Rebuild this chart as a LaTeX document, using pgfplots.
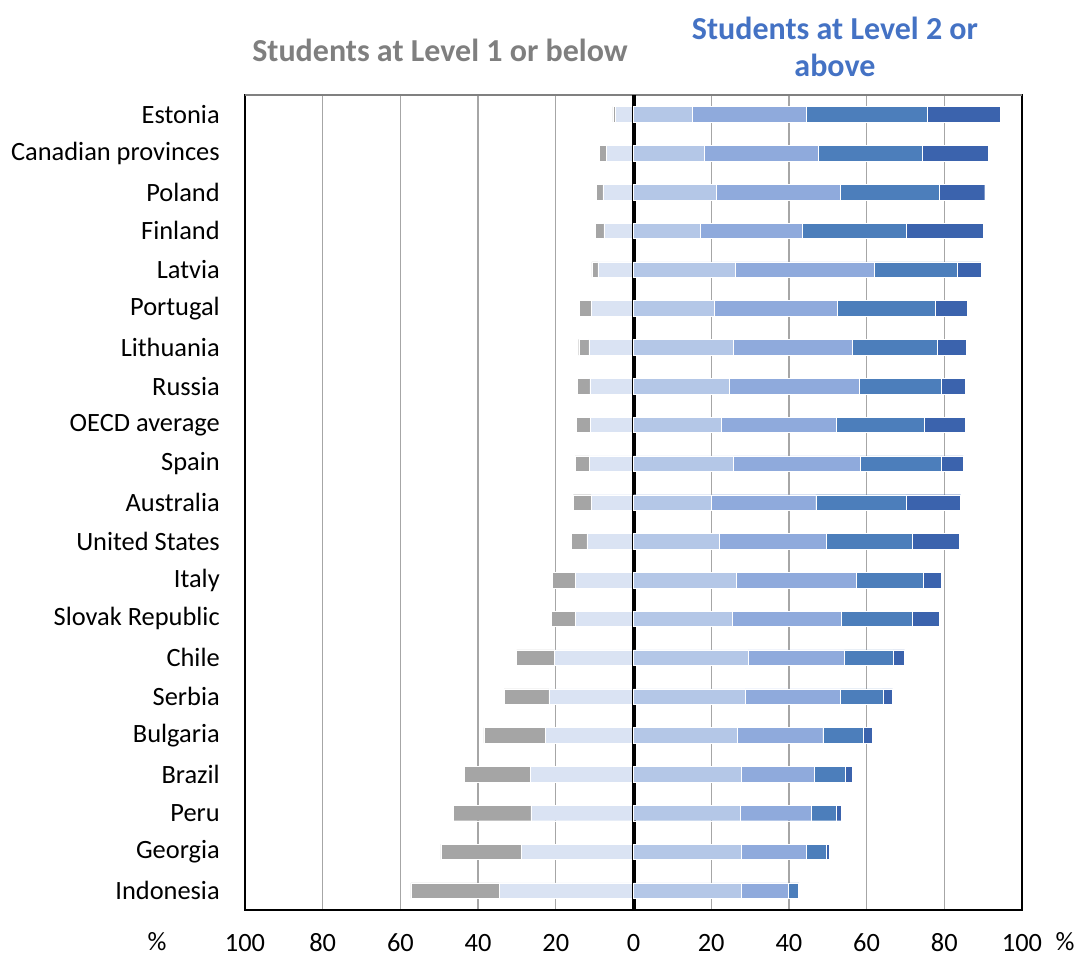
\documentclass[border=0pt]{standalone}
\usepackage{fontspec}
\setmainfont{Carlito}
\usepackage{pgfplots}
\usepackage{pgfplotstable}
\pgfplotsset{compat=1.18}

\definecolor{belowone}{HTML}{A5A5A5}
\definecolor{lvlone}{HTML}{DAE3F3}
\definecolor{lvltwo}{HTML}{B4C7E7}
\definecolor{lvlthree}{HTML}{8FAADC}
\definecolor{lvlfour}{HTML}{4C7EBB}
\definecolor{lvlfive}{HTML}{3B63AD}
\definecolor{titlegray}{HTML}{7F7F7F}
\definecolor{titleblue}{HTML}{4472C4}
\definecolor{gridgray}{HTML}{A6A6A6}

% left side: level 1 and below level 1 (negative)
\pgfplotstableread{
y    lone   below
20   -4.7   -0.6
19   -7.0   -1.8
18   -7.9   -1.6
17   -7.6   -2.3
16   -9.2   -1.5
15  -10.9   -3.1
14  -11.5   -2.6
13  -11.2   -3.3
12  -11.1   -3.7
11  -11.4   -3.6
10  -10.9   -4.6
9   -12.0   -4.0
8   -14.9   -5.9
7   -14.9   -6.2
6   -20.4   -9.7
5   -21.8  -11.5
4   -22.7  -15.8
3   -26.5  -17.1
2   -26.4  -20.0
1   -28.9  -20.7
0   -34.6  -22.7
}\lowtab

% right side: levels 2, 3, 4, 5 and above
\pgfplotstableread{
y   ltwo  lthree lfour lfive
20  15.2  29.3   31.1  18.9
19  18.2  29.3   26.9  16.8
18  21.2  31.9   25.6  11.7
17  17.1  26.4   26.7  19.7
16  26.3  35.7   21.4   6.0
15  20.7  31.7   25.3   8.2
14  25.6  30.7   21.9   7.5
13  24.6  33.6   21.1   6.2
12  22.5  29.7   22.6  10.5
11  25.7  32.6   20.9   5.7
10  20.1  26.8   23.3  14.0
9   22.1  27.6   22.1  12.1
8   26.4  31.0   17.1   4.6
7   25.3  28.1   18.4   7.0
6   29.5  24.8   12.5   3.0
5   28.7  24.6   10.9   2.5
4   26.7  22.0   10.4   2.4
3   27.7  18.8    7.9   1.9
2   27.5  18.2    6.5   1.3
1   27.7  16.8    5.1   0.7
0   27.7  12.2    2.6   0.1
}\hightab

\pgfplotsset{
  base/.style={
    scale only axis,
    width=582.75pt, height=611.25pt,
    at={(0,0)}, anchor=south west,
    xmin=-100, xmax=100, ymin=-0.5, ymax=20.5,
    xbar stacked, bar width=0.4,
  },
  seg/.style={fill=#1, draw=white, line width=0.3pt},
}

\begin{document}
\begin{tikzpicture}
\begin{axis}[base,
  xtick={-100,-80,...,100},
  xticklabels={100,80,60,40,20,0,20,40,60,80,100},
  ytick={0,...,20},
  yticklabels={Indonesia,Georgia,Peru,Brazil,Bulgaria,Serbia,Chile,Slovak Republic,Italy,United States,Australia,Spain,OECD average,Russia,Lithuania,Portugal,Latvia,Finland,Poland,Canadian provinces,Estonia},
  major tick length=0pt,
  xmajorgrids, grid style={color=gridgray, line width=1pt},
  axis line style={line width=1.1pt},
  tick label style={font=\fontsize{19.8}{23}\selectfont},
  /pgf/number format/assume math mode=true,
  xticklabel style={anchor=base, inner sep=0pt, yshift=-30.75pt},
  yticklabel style={anchor=east, inner sep=0pt, xshift=-18.75pt},
]
\addplot[seg=lvlone] table[x=lone, y=y]{\lowtab};
\addplot[seg=belowone] table[x=below, y=y]{\lowtab};
\draw[color=gray, line width=1.3pt] (axis cs:-100,20.5) -- (axis cs:100,20.5);
\end{axis}

\begin{axis}[base, hide axis]
\addplot[seg=lvltwo] table[x=ltwo, y=y]{\hightab};
\addplot[seg=lvlthree] table[x=lthree, y=y]{\hightab};
\addplot[seg=lvlfour] table[x=lfour, y=y]{\hightab};
\addplot[seg=lvlfive] table[x=lfive, y=y]{\hightab};
\draw[black, line width=3pt] (axis cs:0,-0.5) -- (axis cs:0,20.5);
\end{axis}

\node[font=\bfseries\fontsize{24}{28}\selectfont, text=titlegray] at (146.25pt,645pt) {Students at Level 1 or below};
\node[font=\bfseries\fontsize{24}{27.75}\selectfont, text=titleblue, align=center] at (442.5pt,647.6pt) {Students at Level 2 or\\above};
\node[anchor=base, inner sep=0pt, font=\fontsize{19.8}{23}\selectfont] at (-66pt,-30.75pt) {\%};
\node[anchor=base, inner sep=0pt, font=\fontsize{19.8}{23}\selectfont] at (615pt,-30.75pt) {\%};

\pgfresetboundingbox
\useasboundingbox (-183.75pt,-34.5pt) rectangle (624.75pt,682.5pt);
\end{tikzpicture}
\end{document}
